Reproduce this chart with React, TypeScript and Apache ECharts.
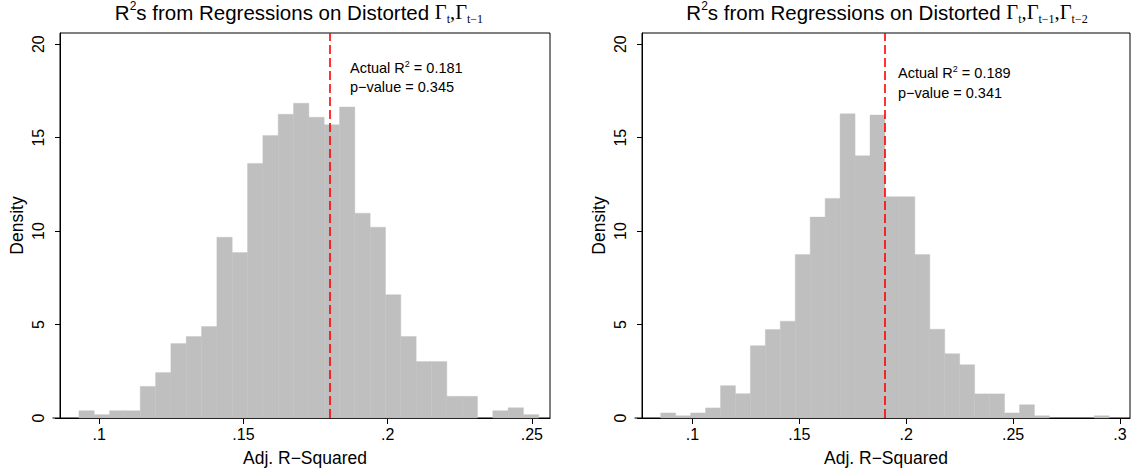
import React, { useEffect, useRef } from "react";
import * as echarts from "echarts";

// ---------- data ----------
const LEFT_BIN_START = 0.09296;
const LEFT_BIN_WIDTH = 0.005315;
const LEFT_DENSITY = [
  0.39, 0.18, 0.39, 0.39, 1.69, 2.43, 3.98, 4.36, 4.89, 9.67,
  8.85, 13.62, 15.12, 16.25, 16.84, 16.09, 15.69, 16.64, 10.96, 10.21,
  6.6, 4.36, 3.02, 3.02, 1.16, 1.16, 0, 0.39, 0.55, 0.18,
];
const LEFT_ACTUAL = 0.181;
const LEFT_PVALUE = "0.345";

const RIGHT_BIN_START = 0.08513;
const RIGHT_BIN_WIDTH = 0.006994;
const RIGHT_DENSITY = [
  0.27, 0.12, 0.27, 0.54, 1.73, 1.3, 3.87, 4.73, 5.18, 8.75,
  10.75, 11.75, 16.28, 14.03, 16.21, 11.84, 11.84, 8.75, 4.75, 3.44,
  2.85, 1.29, 1.29, 0.27, 0.71, 0.12, 0, 0, 0, 0.12,
];
const RIGHT_ACTUAL_LINE = 0.1876;
const RIGHT_ACTUAL = "0.189";
const RIGHT_PVALUE = "0.341";

const LEFT_X_TICKS = [0.1, 0.15, 0.2, 0.25];
const RIGHT_X_TICKS = [0.1, 0.15, 0.2, 0.25, 0.3];
const Y_TICKS = [0, 5, 10, 15, 20];

const LEFT_X_RANGE = [0.0864, 0.2563];
const RIGHT_X_RANGE = [0.07638, 0.30468];
const Y_RANGE = [0, 20.6];

// ---------- layout ----------
const SANS = "'Liberation Sans', Arial, Helvetica, sans-serif";
const SERIF = "'Liberation Serif', 'Times New Roman', serif";
const GRIDS = [
  { left: 60, top: 33, width: 490, height: 385 },
  { left: 642, top: 33, width: 488, height: 385 },
];
const GRAY = "#bfbfbf";

function histData(start: number, width: number, dens: number[]) {
  return dens.map((d, i) => [start + i * width, start + (i + 1) * width, d]);
}

const fmtX = (v: number) => String(v).replace(/^0\./, ".");

function makeX(idx: number, range: number[], ticks: number[]) {
  return {
    gridIndex: idx,
    type: "value",
    min: range[0],
    max: range[1],
    axisLine: { show: true, onZero: false, lineStyle: { color: "#000", width: 1 } },
    axisTick: { show: true, length: 6, customValues: ticks, lineStyle: { color: "#000", width: 1 } },
    axisLabel: {
      customValues: ticks,
      formatter: fmtX,
      fontSize: 16,
      color: "#000",
      fontFamily: SANS,
      margin: 8,
    },
    splitLine: { show: false },
    name: "Adj. R−Squared",
    nameLocation: "middle",
    nameGap: 31,
    nameTextStyle: { fontSize: 17.5, color: "#000", fontFamily: SANS },
  };
}

function makeY(idx: number) {
  return {
    gridIndex: idx,
    type: "value",
    min: Y_RANGE[0],
    max: Y_RANGE[1],
    axisLine: { show: true, onZero: false, lineStyle: { color: "#000", width: 1 } },
    axisTick: { show: true, length: 5, customValues: Y_TICKS, lineStyle: { color: "#000", width: 1 } },
    axisLabel: {
      customValues: Y_TICKS,
      rotate: 90,
      fontSize: 16,
      color: "#000",
      fontFamily: SANS,
      margin: 14,
    },
    splitLine: { show: false },
    name: "Density",
    nameLocation: "middle",
    nameGap: 34,
    nameTextStyle: { fontSize: 17.5, color: "#000", fontFamily: SANS },
  };
}

function renderBar(_params: any, api: any) {
  const x0 = api.value(0);
  const x1 = api.value(1);
  const h = api.value(2);
  if (!(h > 0)) return null;
  const p0 = api.coord([x0, 0]);
  const p1 = api.coord([x1, h]);
  return {
    type: "rect",
    shape: { x: p0[0], y: p1[1], width: p1[0] - p0[0], height: p0[1] - p1[1] },
    style: { fill: GRAY, stroke: GRAY, lineWidth: 0.4 },
  };
}

function histSeries(idx: number, data: number[][], actual: number) {
  return {
    type: "custom",
    xAxisIndex: idx,
    yAxisIndex: idx,
    renderItem: renderBar,
    encode: { x: [0, 1], y: 2 },
    data,
    silent: true,
    markLine: {
      silent: true,
      symbol: "none",
      animation: false,
      label: { show: false },
      lineStyle: { color: "#ff0000", type: [9, 4], width: 1.6 },
      data: [{ xAxis: actual }],
    },
  };
}

const richTitle = {
  n: { fontSize: 20.5, fontFamily: SANS, fill: "#000", lineHeight: 25 },
  sup: { fontSize: 12, fontFamily: SANS, fill: "#000", verticalAlign: "top", lineHeight: 14 },
  g: { fontSize: 20.5, fontFamily: SERIF, fill: "#000", lineHeight: 25 },
  sub: { fontSize: 12, fontFamily: SERIF, fill: "#000", verticalAlign: "bottom", lineHeight: 14 },
};
const richNote = {
  a: { fontSize: 14.5, fontFamily: SANS, fill: "#000", lineHeight: 18 },
  s: { fontSize: 9, fontFamily: SANS, fill: "#000", verticalAlign: "top", lineHeight: 12 },
};

export default function App() {
  const ref = useRef<HTMLDivElement>(null);
  useEffect(() => {
    document.body.style.margin = "0";
    if (!ref.current) return;
    const chart = echarts.init(ref.current, null, { renderer: "svg" });
    const graphic: any[] = [
      {
        type: "text",
        style: {
          text: "{n|R}{sup|2}{n|s from Regressions on Distorted }{g|Γ}{sub|t}{g|,Γ}{sub|t−1}",
          rich: richTitle,
          x: 299,
          y: 12,
          align: "center",
          verticalAlign: "middle",
        },
      },
      {
        type: "text",
        style: {
          text: "{n|R}{sup|2}{n|s from Regressions on Distorted }{g|Γ}{sub|t}{g|,Γ}{sub|t−1}{g|,Γ}{sub|t−2}",
          rich: richTitle,
          x: 887,
          y: 12,
          align: "center",
          verticalAlign: "middle",
        },
      },
      {
        type: "text",
        style: { text: "{a|Actual R}{s|2}{a| = " + LEFT_ACTUAL.toFixed(3) + "}", rich: richNote, x: 350, y: 68, align: "left", verticalAlign: "middle" },
      },
      {
        type: "text",
        style: { text: "{a|p−value = " + LEFT_PVALUE + "}", rich: richNote, x: 350, y: 87, align: "left", verticalAlign: "middle" },
      },
      {
        type: "text",
        style: { text: "{a|Actual R}{s|2}{a| = " + RIGHT_ACTUAL + "}", rich: richNote, x: 898, y: 73, align: "left", verticalAlign: "middle" },
      },
      {
        type: "text",
        style: { text: "{a|p−value = " + RIGHT_PVALUE + "}", rich: richNote, x: 898, y: 93, align: "left", verticalAlign: "middle" },
      },
      // axis line extensions to the left of the plot region (Stata style)
      ...GRIDS.map((g) => ({
        type: "line",
        shape: { x1: g.left - 7.5, y1: g.top + g.height, x2: g.left, y2: g.top + g.height },
        style: { stroke: "#000", lineWidth: 1 },
      })),
    ];

    chart.setOption({
      animation: false,
      backgroundColor: "#fff",
      grid: GRIDS.map((g) => ({
        ...g,
        show: true,
        borderColor: "#000",
        borderWidth: 1,
        backgroundColor: "transparent",
        containLabel: false,
        outerBoundsMode: "none",
      })),
      xAxis: [makeX(0, LEFT_X_RANGE, LEFT_X_TICKS), makeX(1, RIGHT_X_RANGE, RIGHT_X_TICKS)],
      yAxis: [makeY(0), makeY(1)],
      series: [
        histSeries(0, histData(LEFT_BIN_START, LEFT_BIN_WIDTH, LEFT_DENSITY), LEFT_ACTUAL),
        histSeries(1, histData(RIGHT_BIN_START, RIGHT_BIN_WIDTH, RIGHT_DENSITY), RIGHT_ACTUAL_LINE),
      ],
      graphic,
    });
    return () => chart.dispose();
  }, []);
  return <div ref={ref} style={{ width: 1133, height: 469 }} />;
}
